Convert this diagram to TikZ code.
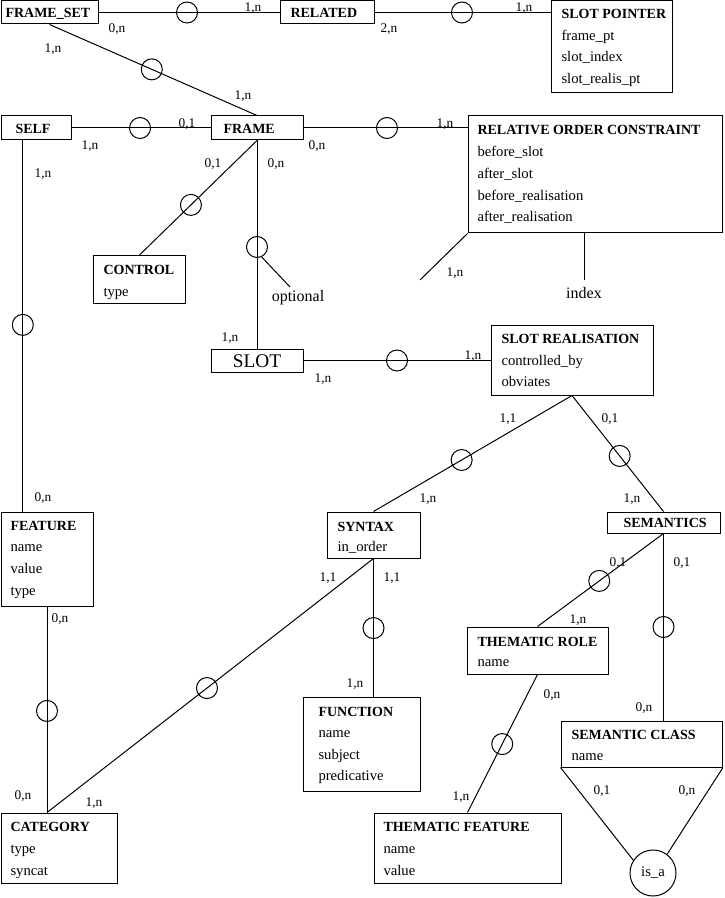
\documentclass[tikz,border=0pt]{standalone}
\usepackage{fontspec}
\setmainfont{Liberation Serif}
\usetikzlibrary{fit,calc}
\begin{document}
\begin{tikzpicture}[x=0.75pt,y=-0.75pt,line width=0.75pt,
  box/.style={draw,rectangle,inner sep=0pt},
  rc/.style={draw,circle,inner sep=0pt,minimum size=15.75pt},
  ttl/.style={anchor=west,inner sep=0pt,font=\fontsize{10.5pt}{12pt}\selectfont\bfseries,text height=7pt,text depth=0pt},
  att/.style={anchor=west,inner sep=0pt,font=\fontsize{11pt}{13pt}\selectfont,text height=8pt,text depth=2.5pt},
  card/.style={inner sep=0pt,font=\fontsize{10pt}{12pt}\selectfont,text height=7pt,text depth=0pt},
  note/.style={inner sep=0pt,font=\fontsize{12pt}{14pt}\selectfont}]
\useasboundingbox (0,0) rectangle (724,898);

% entity boxes
\node[box,fit={(1,1)(98,24)}] (fs) {};
\node[box,fit={(280,1)(374,24)}] (rel) {};
\node[box,fit={(551,1)(672,93)}] (sp) {};
\node[box,fit={(1,116)(71,140)}] (self) {};
\node[box,fit={(211,116)(303,140)}] (frame) {};
\node[box,fit={(468,116)(722.5,233)}] (roc) {};
\node[box,fit={(93,256)(185,303)}] (ctrl) {};
\node[box,fit={(211,349)(303,372)}] (slot) {};
\node[box,fit={(491,325)(653,395)}] (sr) {};
\node[box,fit={(327,512)(420,558)}] (syn) {};
\node[box,fit={(607,512)(720,533)}] (sem) {};
\node[box,fit={(1,512)(93,606)}] (feat) {};
\node[box,fit={(303,697)(420,791)}] (func) {};
\node[box,fit={(1,813)(117,883)}] (cat) {};
\node[box,fit={(467,627)(608,674)}] (tr) {};
\node[box,fit={(374,813)(561,883)}] (tf) {};
\node[box,fit={(561,721)(722.5,767)}] (sc) {};
\node[draw,circle,inner sep=0pt,minimum size=34.5pt,font=\fontsize{11pt}{13pt}\selectfont] (isa) at (653,873) {is\_a};

% texts
\node[ttl] (fst) at (5,13) {FRAME\_SET};
\node[ttl] (relt) at (290,13) {RELATED};
\node[ttl] (spt) at (561,14) {SLOT POINTER};
\node[att] (spa1) at (561,37) {frame\_pt};
\node[att] (spa2) at (561,58) {slot\_index};
\node[att] (spa3) at (561,80) {slot\_realis\_pt};
\node[ttl] (selft) at (15,129) {SELF};
\node[ttl] (framet) at (223,129) {FRAME};
\node[ttl] (roct) at (477,130) {RELATIVE ORDER CONSTRAINT};
\node[att] (roca1) at (477,153) {before\_slot};
\node[att] (roca2) at (477,175) {after\_slot};
\node[att] (roca3) at (477,197) {before\_realisation};
\node[att] (roca4) at (477,218) {after\_realisation};
\node[ttl] (ctrlt) at (103,270) {CONTROL};
\node[att] (ctrla1) at (103,293) {type};
\node[inner sep=0pt,font=\fontsize{14.5pt}{16pt}\selectfont] (slott) at (257,361) {SLOT};
\node[ttl] (srt) at (501,339) {SLOT REALISATION};
\node[att] (sra1) at (501,362) {controlled\_by};
\node[att] (sra2) at (501,383) {obviates};
\node[ttl] (synt) at (337,527) {SYNTAX};
\node[att] (syna1) at (337,548) {in\_order};
\node[ttl] (semt) at (623,523) {SEMANTICS};
\node[ttl] (featt) at (10,526) {FEATURE};
\node[att] (feata1) at (10,548) {name};
\node[att] (feata2) at (10,570) {value};
\node[att] (feata3) at (10,592) {type};
\node[ttl] (funct) at (318,712) {FUNCTION};
\node[att] (funca1) at (318,734) {name};
\node[att] (funca2) at (318,756) {subject};
\node[att] (funca3) at (318,777) {predicative};
\node[ttl] (catt) at (10,827) {CATEGORY};
\node[att] (cata1) at (10,850) {type};
\node[att] (cata2) at (10,872) {syncat};
\node[ttl] (trt) at (477,642) {THEMATIC ROLE};
\node[att] (tra1) at (477,663) {name};
\node[ttl] (tft) at (383,827) {THEMATIC FEATURE};
\node[att] (tfa1) at (383,850) {name};
\node[att] (tfa2) at (383,872) {value};
\node[ttl] (sct) at (571,735) {SEMANTIC CLASS};
\node[att] (sca1) at (571,757) {name};

% connectors
\draw (fs.east) -- node[rc,pos=0.489] (r1) {} (rel.west);
\draw (rel.east) -- node[rc,pos=0.497] (r2) {} (sp.west |- rel.east);
\draw (fs.south) -- node[rc,pos=0.493] (r3) {} (frame.north);
\draw (self.east) -- node[rc,pos=0.493] (r4) {} (frame.west);
\draw (frame.east) -- node[rc,pos=0.509] (r5) {} (roc.west |- frame.east);
\coordinate (rocend) at (420,280);
\draw (roc.south west) -- (rocend);
\coordinate (idxend) at (584,280);
\draw (idxend |- roc.south) -- (idxend);
\node[note] (idx) at (584,293) {index};
\draw (frame.south) -- node[rc,pos=0.56] (r8) {} (ctrl.north);
\draw (frame.south) -- node[rc,pos=0.512] (r9) {} (slot.north);
\coordinate (optend) at (290,287);
\draw (r9.-65) -- (optend);
\node[note] (opt) at (298,298) {optional};
\draw (slot.east) -- node[rc,pos=0.5] (r10) {} (sr.west |- slot.east);
\draw (sr.south) -- node[rc,pos=0.556] (r11) {} (syn.north);
\draw (sr.south) -- node[rc,pos=0.521] (r12) {} (sem.north);
\coordinate (selfleg) at ($(self.south west)!0.314!(self.south east)$);
\draw (selfleg) -- node[rc,pos=0.497] (r13) {} (selfleg |- feat.north);
\draw (feat.south) -- node[rc,pos=0.507] (r14) {} (feat.south |- cat.north);
\draw (syn.south) -- node[rc,pos=0.51] (r15) {} (feat.south |- cat.north);
\draw (syn.south) -- node[rc,pos=0.504] (r16) {} (syn.south |- func.north);
\draw (sem.south) -- node[rc,pos=0.51] (r17) {} (tr.north);
\draw (sem.south) -- node[rc,pos=0.5] (r18) {} (sem.south |- sc.north);
\draw (tr.south) -- node[rc,pos=0.504] (r19) {} (tf.north);
\draw (sc.south west) -- (isa.147);
\draw (sc.south east) -- (isa.53);

% cardinalities
\foreach \x/\y/\t [count=\i] in {
  117/28/{0,n}, 253/7/{1,n}, 389/28/{2,n}, 524/7/{1,n}, 53/48/{1,n}, 243/95/{1,n},
  90/145/{1,n}, 187/123/{0,1}, 317/145/{0,n}, 445/123/{1,n}, 455/272/{1,n},
  213/163/{0,1}, 276/163/{0,n}, 230/337/{1,n}, 323/378/{1,n}, 473/355/{1,n},
  508/418/{1,1}, 428/498/{1,n}, 610/418/{0,1}, 632/498/{1,n}, 43/173/{1,n},
  43/497/{0,n}, 60/618/{0,n}, 23/795/{0,n}, 328/577/{1,1}, 94/802/{1,n},
  392/577/{1,1}, 355/683/{1,n}, 618/562/{0,1}, 578/619/{1,n}, 682/562/{0,1},
  644/707/{0,n}, 552/694/{0,n}, 461/796/{1,n}, 602/790/{0,1}, 687/790/{0,n}}
  \node[card] (lab\i) at (\x,\y) {\t};
\end{tikzpicture}
\end{document}
